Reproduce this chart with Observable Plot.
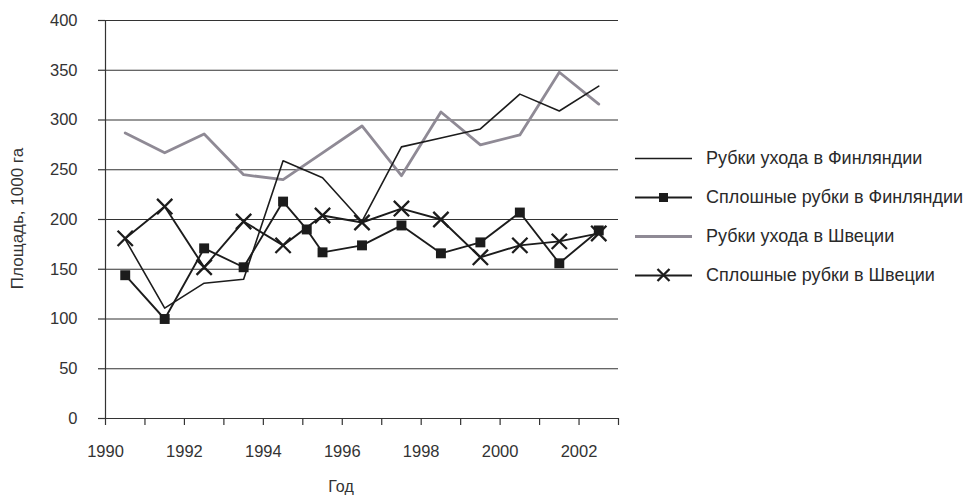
<!DOCTYPE html>
<html><head><meta charset="utf-8">
<script src="https://cdn.jsdelivr.net/npm/d3@7"></script>
<script src="https://cdn.jsdelivr.net/npm/@observablehq/plot@0.6"></script>
<style>
body{margin:0;background:#fff;font-family:"Liberation Sans",Arial,sans-serif;}
#wrap{position:relative;width:974px;height:502px;overflow:hidden;}
#legend{position:absolute;left:635px;top:0;}
.row{position:absolute;left:0;height:20px;display:flex;align-items:center;white-space:nowrap;font-size:18px;color:#2a2a2a;}
.row svg{margin-right:13px;}
</style></head><body><div id="wrap"><div id="chart"></div><div id="legend"></div></div>
<script>
// Data (x = middle of each year)
const years = [1990.5,1991.5,1992.5,1993.5,1994.5,1995.5,1996.5,1997.5,1998.5,1999.5,2000.5,2001.5,2002.5];
const finThin = [180,111,136,140,259,242,198,273,282,291,326,309,334];
const finClearYears = [1990.5,1991.5,1992.5,1993.5,1994.5,1995.1,1995.5,1996.5,1997.5,1998.5,1999.5,2000.5,2001.5,2002.5];
const finClear = [144,100,171,152,218,190,167,174,194,166,177,207,156,189];
const sweThin = [287,267,286,245,240,267,294,244,308,275,285,348,316];
const sweClear = [181,213,152,198,174,204,197,211,200,162,174,178,186];
const seriesNames = ["Рубки ухода в Финляндии","Сплошные рубки в Финляндии","Рубки ухода в Швеции","Сплошные рубки в Швеции"];
const axisYears = d3.range(1990, 2004);
const yTicks = d3.range(0, 401, 50);
const xTitle = "Год";
const yTitle = "Площадь, 1000 га";

const BLACK = "#1c1c1c", GRAY = "#8f8a95", AX = "#333";

const finThinData = years.map((x,i)=>({x, y: finThin[i]}));
const finClearData = finClearYears.map((x,i)=>({x, y: finClear[i]}));
const sweThinData = years.map((x,i)=>({x, y: sweThin[i]}));
const sweClearData = years.map((x,i)=>({x, y: sweClear[i]}));

const chart = Plot.plot({
  width: 974, height: 502,
  marginLeft: 105, marginRight: 356, marginTop: 20, marginBottom: 84,
  style: {fontFamily: '"Liberation Sans", Arial, sans-serif', fontSize: "16.5px", color: "#333", background: "#fff"},
  x: {domain: [1990, 2003]},
  y: {domain: [0, 400]},
  marks: [
    Plot.ruleY(yTicks, {stroke: AX, strokeWidth: 1.2, strokeOpacity: 1}),
    Plot.ruleX([1990], {stroke: AX, strokeWidth: 1.2}),
    Plot.axisY({ticks: yTicks, tickSize: 7, tickPadding: 21, label: null, tickFormat: d => String(d), stroke: AX, strokeWidth: 1.2}),
    Plot.axisX({ticks: axisYears, tickSize: 7, tickPadding: 20, label: null, tickFormat: d => (d % 2 === 0 && d < 2003) ? String(d) : "", stroke: AX, strokeWidth: 1.2}),
    Plot.text([xTitle], {frameAnchor: "bottom", dx: -21, dy: 73, fontSize: 16, fill: "#333"}),
    Plot.text([yTitle], {frameAnchor: "left", textAnchor: "middle", rotate: -90, dx: -88, dy: -1, fontSize: 17, fill: "#333"}),
    Plot.line(sweThinData, {x: "x", y: "y", stroke: GRAY, strokeWidth: 2.8}),
    Plot.line(finThinData, {x: "x", y: "y", stroke: BLACK, strokeWidth: 1.6}),
    Plot.line(finClearData, {x: "x", y: "y", stroke: BLACK, strokeWidth: 1.9}),
    Plot.dot(finClearData, {x: "x", y: "y", symbol: "square", r: 5.6, fill: BLACK, stroke: "none"}),
    Plot.line(sweClearData, {x: "x", y: "y", stroke: BLACK, strokeWidth: 1.9}),
    Plot.dot(sweClearData, {x: "x", y: "y", symbol: "times", r: 7, stroke: BLACK, strokeWidth: 2.3})
  ]
});
document.getElementById("chart").appendChild(chart);

// Legend
const legend = document.getElementById("legend");
const rowsY = [158, 197, 236, 275];
const kinds = [
  {stroke: BLACK, w: 1.6, m: null},
  {stroke: BLACK, w: 1.9, m: "square"},
  {stroke: GRAY, w: 2.8, m: null},
  {stroke: BLACK, w: 1.9, m: "times"}
];
seriesNames.forEach((name, i) => {
  const k = kinds[i];
  const row = document.createElement("div");
  row.className = "row";
  row.style.top = (rowsY[i] - 10) + "px";
  let marker = "";
  if (k.m === "square") marker = `<rect x="24" y="6" width="9" height="9" fill="${BLACK}"/>`;
  if (k.m === "times") marker = `<path d="M22.5,4L34.5,16M22.5,16L34.5,4" stroke="${BLACK}" stroke-width="2.3"/>`;
  row.innerHTML = `<svg width="58" height="20"><line x1="0" x2="57" y1="10.5" y2="10.5" stroke="${k.stroke}" stroke-width="${k.w}"/>${marker}</svg><span>${name}</span>`;
  legend.appendChild(row);
});
</script></body></html>
